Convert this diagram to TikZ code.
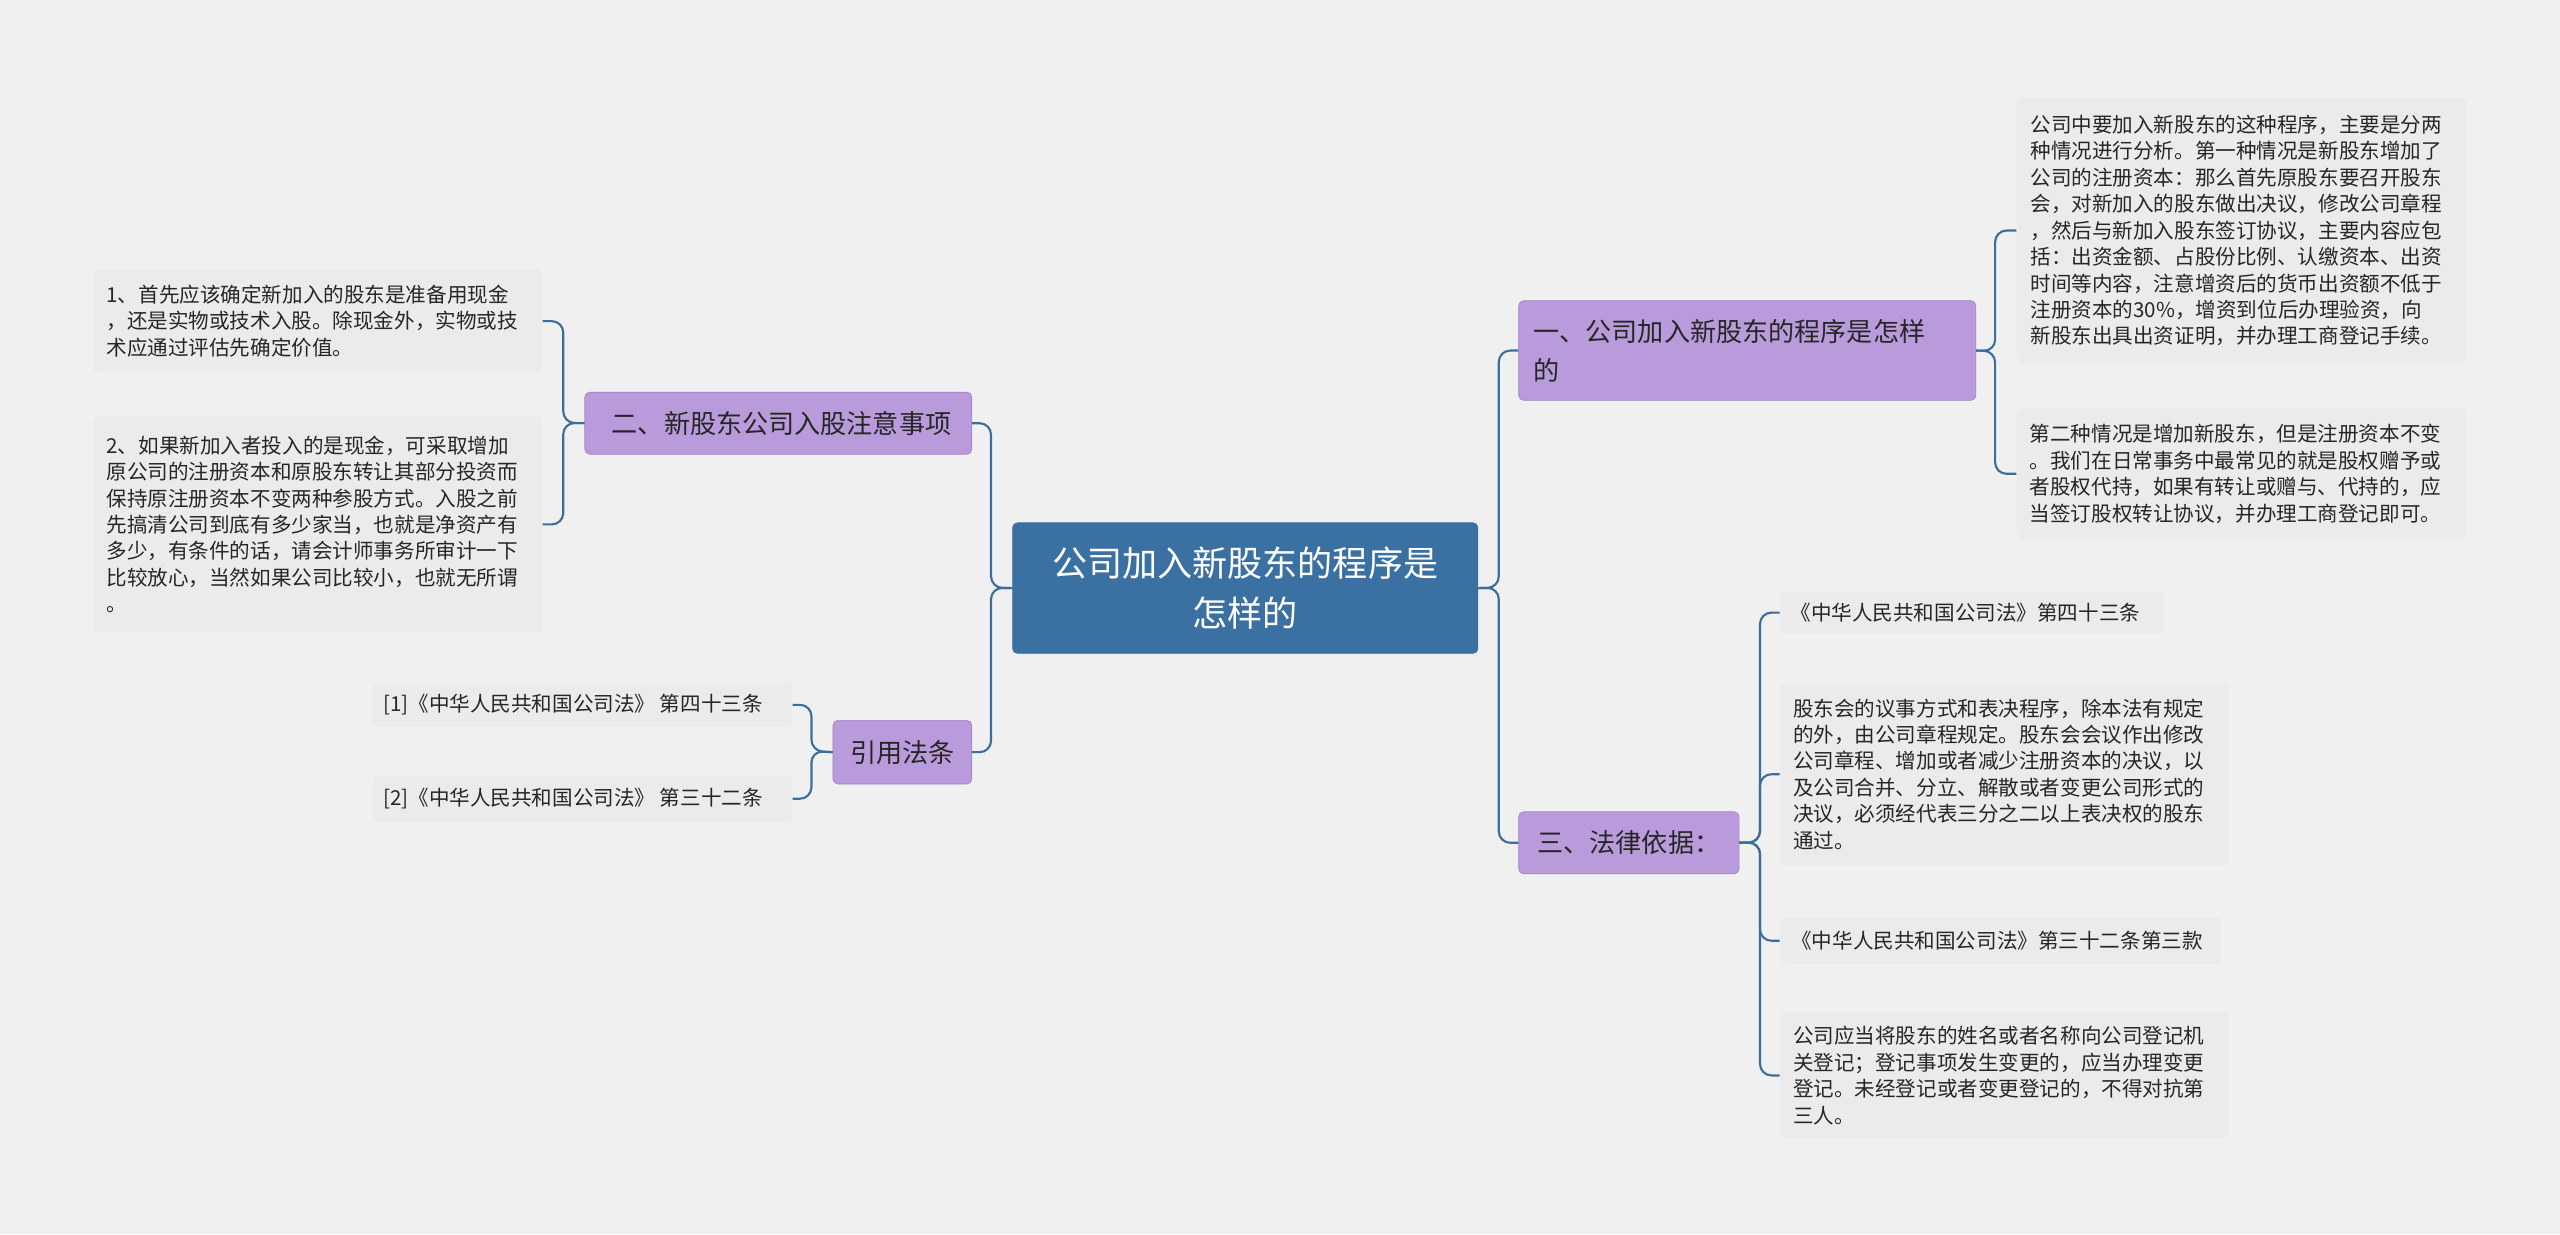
\documentclass[tikz,border=0pt]{standalone}
\usepackage{fontspec}
\setmainfont{Noto Sans CJK SC}
\begin{document}
\begin{tikzpicture}[x=1pt,y=-1pt,
  leaf/.style={fill=leafgray,rounded corners=3pt,align=left,anchor=north west,inner sep=0pt,font=\fontsize{12.6}{16.2}\selectfont,text=black!85},
  branch/.style={fill=purp,draw=purpd,rounded corners=3pt,align=left,anchor=north west,inner sep=0pt,font=\fontsize{16}{24}\selectfont,text=black!85},
  con/.style={draw=lineblue,line width=1.3pt,rounded corners=7pt}]
\definecolor{leafgray}{HTML}{EBEBEB}
\definecolor{purp}{HTML}{B99BDB}
\definecolor{purpd}{HTML}{A283C8}
\definecolor{lineblue}{HTML}{3C6E9C}
\definecolor{centerblue}{HTML}{3B70A3}
\fill[white!94!black] (0,0) rectangle (1568,756);
\useasboundingbox (0,0) rectangle (1568,756);
% center
\node[fill=centerblue,draw=lineblue,rounded corners=3pt,minimum width=285pt,minimum height=80pt,align=center,text=white,font=\fontsize{21.5}{31}\selectfont,anchor=north west,inner sep=0pt] (c) at (620,320) {公司加入新股东的程序是\\怎样的};
% right branch 1
\node[branch,minimum width=280pt,minimum height=61pt,text width=270pt] (b1) at (930,184) {\hspace*{4pt}一、公司加入新股东的程序是怎样\\\hspace*{4pt}的};
\node[leaf,minimum width=275pt,minimum height=162pt,text width=270pt] (r1) at (1235,60) {\hspace*{6pt}\parbox[c][162pt][c]{265pt}{公司中要加入新股东的这种程序，主要是分两\\种情况进行分析。第一种情况是新股东增加了\\公司的注册资本：那么首先原股东要召开股东\\会，对新加入的股东做出决议，修改公司章程\\，然后与新加入股东签订协议，主要内容应包\\括：出资金额、占股份比例、认缴资本、出资\\时间等内容，注意增资后的货币出资额不低于\\注册资本的30\%，增资到位后办理验资，向\\新股东出具出资证明，并办理工商登记手续。}};
\node[leaf,minimum width=275pt,minimum height=80pt] (r2) at (1235,250) {\hspace*{6pt}\parbox[c][80pt][c]{265pt}{第二种情况是增加新股东，但是注册资本不变\\。我们在日常事务中最常见的就是股权赠予或\\者股权代持，如果有转让或赠与、代持的，应\\当签订股权转让协议，并办理工商登记即可。}};
% right branch 3
\node[branch,minimum width=135pt,minimum height=38pt] (b3) at (930,497) {\hspace*{6pt}三、法律依据：\hspace*{6pt}};
\node[leaf,minimum width=235pt,minimum height=26pt] (l1) at (1090,362) {\hspace*{6pt}\parbox[c][26pt][c]{228pt}{《中华人民共和国公司法》第四十三条}};
\node[leaf,minimum width=275pt,minimum height=112pt] (l2) at (1090,418) {\hspace*{6pt}\parbox[c][112pt][c]{265pt}{股东会的议事方式和表决程序，除本法有规定\\的外，由公司章程规定。股东会会议作出修改\\公司章程、增加或者减少注册资本的决议，以\\及公司合并、分立、解散或者变更公司形式的\\决议，必须经代表三分之二以上表决权的股东\\通过。}};
\node[leaf,minimum width=270pt,minimum height=28pt] (l3) at (1090,562) {\hspace*{6pt}\parbox[c][28pt][c]{262pt}{《中华人民共和国公司法》第三十二条第三款}};
\node[leaf,minimum width=275pt,minimum height=77pt] (l4) at (1090,620) {\hspace*{6pt}\parbox[c][77pt][c]{265pt}{公司应当将股东的姓名或者名称向公司登记机\\关登记；登记事项发生变更的，应当办理变更\\登记。未经登记或者变更登记的，不得对抗第\\三人。}};
% left branch 2
\node[branch,minimum width=237pt,minimum height=38pt] (b2) at (358,240) {\hspace*{4pt}二、新股东公司入股注意事项};
\node[leaf,minimum width=275pt,minimum height=63pt] (e1) at (57,165) {\hspace*{6pt}\parbox[c][63pt][c]{265pt}{1、首先应该确定新加入的股东是准备用现金\\，还是实物或技术入股。除现金外，实物或技\\术应通过评估先确定价值。}};
\node[leaf,minimum width=275pt,minimum height=132pt] (e2) at (57,255) {\hspace*{6pt}\parbox[c][132pt][c]{265pt}{2、如果新加入者投入的是现金，可采取增加\\原公司的注册资本和原股东转让其部分投资而\\保持原注册资本不变两种参股方式。入股之前\\先搞清公司到底有多少家当，也就是净资产有\\多少，有条件的话，请会计师事务所审计一下\\比较放心，当然如果公司比较小，也就无所谓\\。}};
% left branch cite
\node[branch,minimum width=85pt,minimum height=39pt,align=center] (b4) at (510,441) {引用法条};
\node[leaf,minimum width=257pt,minimum height=27pt] (f1) at (228,418) {\hspace*{6pt}\parbox[c][27pt][c]{250pt}{[1]《中华人民共和国公司法》 第四十三条}};
\node[leaf,minimum width=257pt,minimum height=28pt] (f2) at (228,475) {\hspace*{6pt}\parbox[c][28pt][c]{250pt}{[2]《中华人民共和国公司法》 第三十二条}};
% connectors
\draw[con] (c.east) -- (918,360) |- (b1.west);
\draw[con] (c.east) -- (918,360) |- (b3.west);
\draw[con] (c.west) -- (607,360) |- (b2.east);
\draw[con] (c.west) -- (607,360) |- (b4.east);
\draw[con] (b1.east) -- (1222,215) |- (r1.west);
\draw[con] (b1.east) -- (1222,215) |- (r2.west);
\draw[con] (b3.east) -- (1078,516) |- (l1.west);
\draw[con] (b3.east) -- (1078,516) |- (l2.west);
\draw[con] (b3.east) -- (1078,516) |- (l3.west);
\draw[con] (b3.east) -- (1078,516) |- (l4.west);
\draw[con] (b2.west) -- (345,259) |- (e1.east);
\draw[con] (b2.west) -- (345,259) |- (e2.east);
\draw[con] (b4.west) -- (497,460) |- (f1.east);
\draw[con] (b4.west) -- (497,460) |- (f2.east);
\end{tikzpicture}
\end{document}
